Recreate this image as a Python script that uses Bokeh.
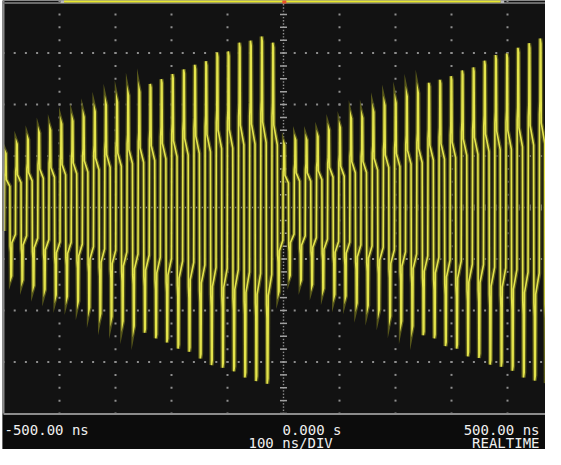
import numpy as np
from bokeh.plotting import figure
from bokeh.models import Range1d, Label
from bokeh.embed import file_html
from bokeh.resources import INLINE

# ---- data (volts in screen divisions) ----
peak_start_ns = -496.0      # time of first positive peak
period_ns = 19.9            # oscillation period
trough_delay_ns = 9.95      # negative peak follows positive peak by half a period

peak_values = [1.08, 1.27, 1.36, 1.49, 1.55, 1.67, 1.73, 1.81, 1.92, 2.05,
               2.11, 2.24, 2.31, 2.40, 2.49, 2.59, 2.68, 2.77, 2.84, 3.01,
               3.03, 3.20, 3.24, 3.32, 3.20,
               1.25, 1.35, 1.35, 1.42, 1.55, 1.60, 1.78, 1.79, 1.91, 2.04,
               2.09, 2.22, 2.29, 2.42, 2.48, 2.55, 2.66, 2.72, 2.85, 2.96,
               2.99, 3.10, 3.19, 3.28, 3.22]

trough_values = [-1.37, -1.45, -1.56, -1.64, -1.75, -1.78, -1.87, -2.00, -2.12, -2.18,
                 -2.27, -2.37, -2.43, -2.54, -2.62, -2.74, -2.80, -2.93, -3.06, -3.11,
                 -3.18, -3.30, -3.37, -3.42,
                 -1.68,
                 -1.36, -1.45, -1.54, -1.62, -1.74, -1.77, -1.91, -1.96, -2.04, -2.17,
                 -2.27, -2.37, -2.48, -2.54, -2.69, -2.74, -2.89, -2.92, -3.05, -3.09,
                 -3.17, -3.30, -3.36, -3.41]

time_labels = ["-500.00 ns", "0.000  s", "500.00 ns"]
label_times = [-500, 0, 500]
timebase_text = "100  ns/DIV"
mode_text = "REALTIME"

h_divisions = [-500, -400, -300, -200, -100, 0, 100, 200, 300, 400, 500]
v_divisions = [-4, -3, -2, -1, 0, 1, 2, 3, 4]

# ---- layout constants ----
PX_PER_NS = 0.56
PX_PER_DIV = 51.5
W, H = 545, 449
FRAME_W = W - 2
x_start = -500 - 1 / PX_PER_NS
x_end = x_start + FRAME_W / PX_PER_NS
y_top = 4 + 1 / PX_PER_DIV
y_bot = y_top - H / PX_PER_DIV

BG = "#121212"
DOT = "#8e8e8e"

p = figure(width=W, height=H, x_range=Range1d(x_start, x_end), y_range=Range1d(y_bot, y_top),
           toolbar_location=None, output_backend="svg", min_border=0,
           background_fill_color=BG, border_fill_color="white", outline_line_color=None)
p.min_border_left = 2
p.axis.visible = False
p.grid.visible = False

# bottom black strip for annotations
p.quad(left=[x_start], right=[x_end], top=[-4], bottom=[y_bot], fill_color="#0c0c0c", line_color=None)

# ---- graticule dots ----
rows = [v for v in v_divisions if v not in (-4, 0, 4)]
cols = [t for t in h_divisions if t not in (-500, 0, 500)]
tx = np.arange(-500, 500.1, 20.0)
gx = np.concatenate([tx for _ in rows])
gy = np.concatenate([np.full(len(tx), r) for r in rows])
vy = np.arange(-4, 4.01, 0.25)
cx = np.concatenate([np.full(len(vy), c) for c in cols])
cy = np.concatenate([vy for _ in cols])
p.scatter(np.concatenate([gx, cx]), np.concatenate([gy, cy]), marker="square", size=2,
          color=DOT, line_color=None)

# center axes with tick marks
fine_y = np.arange(-4, 4.001, 1 / 16)
p.scatter(np.zeros(len(fine_y)), fine_y, marker="square", size=1.4, color=DOT, line_color=None)
p.scatter(np.zeros(len(vy)), vy, marker="dash", size=7, line_color="#a0a0a0", line_width=1.5)
fine_x = np.arange(-500, 500.1, 5.0)
p.scatter(fine_x, np.zeros(len(fine_x)), marker="square", size=1.4, color=DOT, line_color=None)
p.scatter(tx, np.zeros(len(tx)), marker="dash", size=6, angle=np.pi / 2, line_color="#a0a0a0",
          line_width=1.5)

# ---- waveform ----
events = []
for k, a in enumerate(peak_values):
    tp = peak_start_ns + period_ns * k
    events.append((tp, a))
    if k < len(trough_values):
        events.append((tp + trough_delay_ns, trough_values[k]))

xs, ys = [], []
prev_v = -1.2
for te, v in events:
    xs += [te - 2.6, te - 2.1, te - 1.2, te - 0.8, te + 0.5, te + 1.1]
    ys += [0.38 * prev_v, 0.55 * v, 0.63 * v, v, 0.97 * v, 0.5 * v]
    prev_v = v
xs.append(xs[-1] + 6)
ys.append(0.38 * prev_v)

p.line(xs, ys, line_color="#5e5e1c", line_width=4.2, line_alpha=0.9, line_join="miter")
p.line(xs, ys, line_color="#e4e44c", line_width=1.6, line_join="miter")

# ---- screen frame ----
p.line([-500, -500], [y_top, -4], line_color="#8c8c8c", line_width=2)
p.line([-500, 520], [-4 - 0.5 / PX_PER_DIV, -4 - 0.5 / PX_PER_DIV], line_color="#8c8c8c", line_width=2)
p.line([-500, 520], [4 - 1.5 / PX_PER_DIV, 4 - 1.5 / PX_PER_DIV], line_color="#6a6a6a", line_width=2)

# top memory bar and markers
bar_y = 4 + 0.2 / PX_PER_DIV
p.line([-392, 388], [bar_y, bar_y], line_color="#e8e830", line_width=2.5)
p.scatter([-395, 391], [bar_y, bar_y], marker="square", size=3.5, color="#b8b8b8", line_color=None)
p.scatter([1.5], [4], marker="square", size=4, color="#e8502a", line_color=None)

# ---- texts ----
FONT = "DejaVu Sans Mono"
TXT = dict(text_font=FONT, text_font_size="14px", text_color="#f0f0f0",
           text_baseline="alphabetic", y_units="screen")
p.add_layout(Label(x=label_times[0], y=20, x_offset=1, text=time_labels[0], text_align="left", **TXT))
p.add_layout(Label(x=label_times[1], y=20, x_offset=-1, text=time_labels[1], text_align="left", **TXT))
p.add_layout(Label(x=label_times[2], y=20, x_offset=-24, text=time_labels[2], text_align="right", **TXT))
p.add_layout(Label(x=label_times[1], y=7, x_offset=-35, text=timebase_text, text_align="left", **TXT))
p.add_layout(Label(x=label_times[2], y=7, x_offset=-24, text=mode_text, text_align="right", **TXT))

open("out.html", "w").write(file_html(p, INLINE))
